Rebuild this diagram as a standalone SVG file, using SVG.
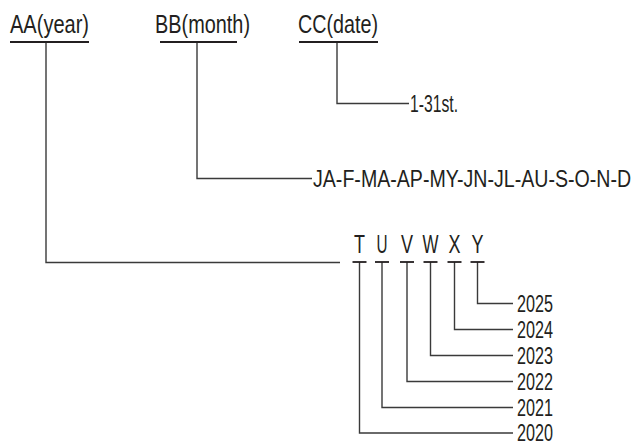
<svg xmlns="http://www.w3.org/2000/svg" width="641" height="446" viewBox="0 0 641 446">
<style>
text{font-family:"Liberation Sans",Arial,sans-serif;fill:#231f20}
.t{font-size:26px}
.s{font-size:23px}
.ln{fill:none;stroke:#3a3a3a;stroke-width:1.4}
.ul{fill:none;stroke:#231f20;stroke-width:1.8}
</style>
<rect width="641" height="446" fill="#fff"/>
<g id="connectors">
<path class="ln" d="M46 42V262.5H340"/>
<path class="ln" d="M197 42V178.5H312"/>
<path class="ln" d="M337 42V103.5H409"/>
<path class="ln" d="M477.5 262V303.5H513"/>
<path class="ln" d="M454.5 262V329.5H513"/>
<path class="ln" d="M430.5 262V355.5H513"/>
<path class="ln" d="M407 262V381.5H513"/>
<path class="ln" d="M382 262V407.5H513"/>
<path class="ln" d="M359.5 262V433H513"/>
</g>
<g id="node-aa">
<text class="t" x="10" y="33" textLength="79" lengthAdjust="spacingAndGlyphs">AA(year)</text>
<line class="ul" x1="10" y1="42" x2="89" y2="42"/>
</g>
<g id="node-bb">
<text class="t" x="155" y="33" textLength="95" lengthAdjust="spacingAndGlyphs">BB(month)</text>
<line class="ul" x1="160" y1="42" x2="237" y2="42"/>
</g>
<g id="node-cc">
<text class="t" x="298" y="33" textLength="80" lengthAdjust="spacingAndGlyphs">CC(date)</text>
<line class="ul" x1="299" y1="42" x2="378" y2="42"/>
</g>
<g id="node-date">
<text class="s" x="410" y="112" textLength="48" lengthAdjust="spacingAndGlyphs">1-31st.</text>
</g>
<g id="node-month">
<text class="s" transform="translate(313 187) scale(0.852 1)" x="0" y="0">JA-F-MA-AP-MY-JN-JL-AU-S-O-N-D</text>
</g>
<g id="node-letters">
<g id="node-T"><text class="t" x="359.5" y="253" text-anchor="middle" textLength="11" lengthAdjust="spacingAndGlyphs">T</text><line class="ul" x1="352.5" y1="262" x2="366.5" y2="262"/></g>
<g id="node-U"><text class="t" x="382" y="253" text-anchor="middle" textLength="11" lengthAdjust="spacingAndGlyphs">U</text><line class="ul" x1="375" y1="262" x2="389" y2="262"/></g>
<g id="node-V"><text class="t" x="407" y="253" text-anchor="middle" textLength="12" lengthAdjust="spacingAndGlyphs">V</text><line class="ul" x1="400" y1="262" x2="414" y2="262"/></g>
<g id="node-W"><text class="t" x="430.5" y="253" text-anchor="middle" textLength="16" lengthAdjust="spacingAndGlyphs">W</text><line class="ul" x1="423.5" y1="262" x2="437.5" y2="262"/></g>
<g id="node-X"><text class="t" x="454.5" y="253" text-anchor="middle" textLength="12" lengthAdjust="spacingAndGlyphs">X</text><line class="ul" x1="447.5" y1="262" x2="461.5" y2="262"/></g>
<g id="node-Y"><text class="t" x="477.5" y="253" text-anchor="middle" textLength="12" lengthAdjust="spacingAndGlyphs">Y</text><line class="ul" x1="470.5" y1="262" x2="484.5" y2="262"/></g>
</g>
<g id="node-years">
<text class="s" x="517" y="311.5" textLength="36" lengthAdjust="spacingAndGlyphs">2025</text>
<text class="s" x="517" y="337.5" textLength="36" lengthAdjust="spacingAndGlyphs">2024</text>
<text class="s" x="517" y="363.5" textLength="36" lengthAdjust="spacingAndGlyphs">2023</text>
<text class="s" x="517" y="389.5" textLength="36" lengthAdjust="spacingAndGlyphs">2022</text>
<text class="s" x="517" y="415.5" textLength="36" lengthAdjust="spacingAndGlyphs">2021</text>
<text class="s" x="517" y="441" textLength="36" lengthAdjust="spacingAndGlyphs">2020</text>
</g>
</svg>
